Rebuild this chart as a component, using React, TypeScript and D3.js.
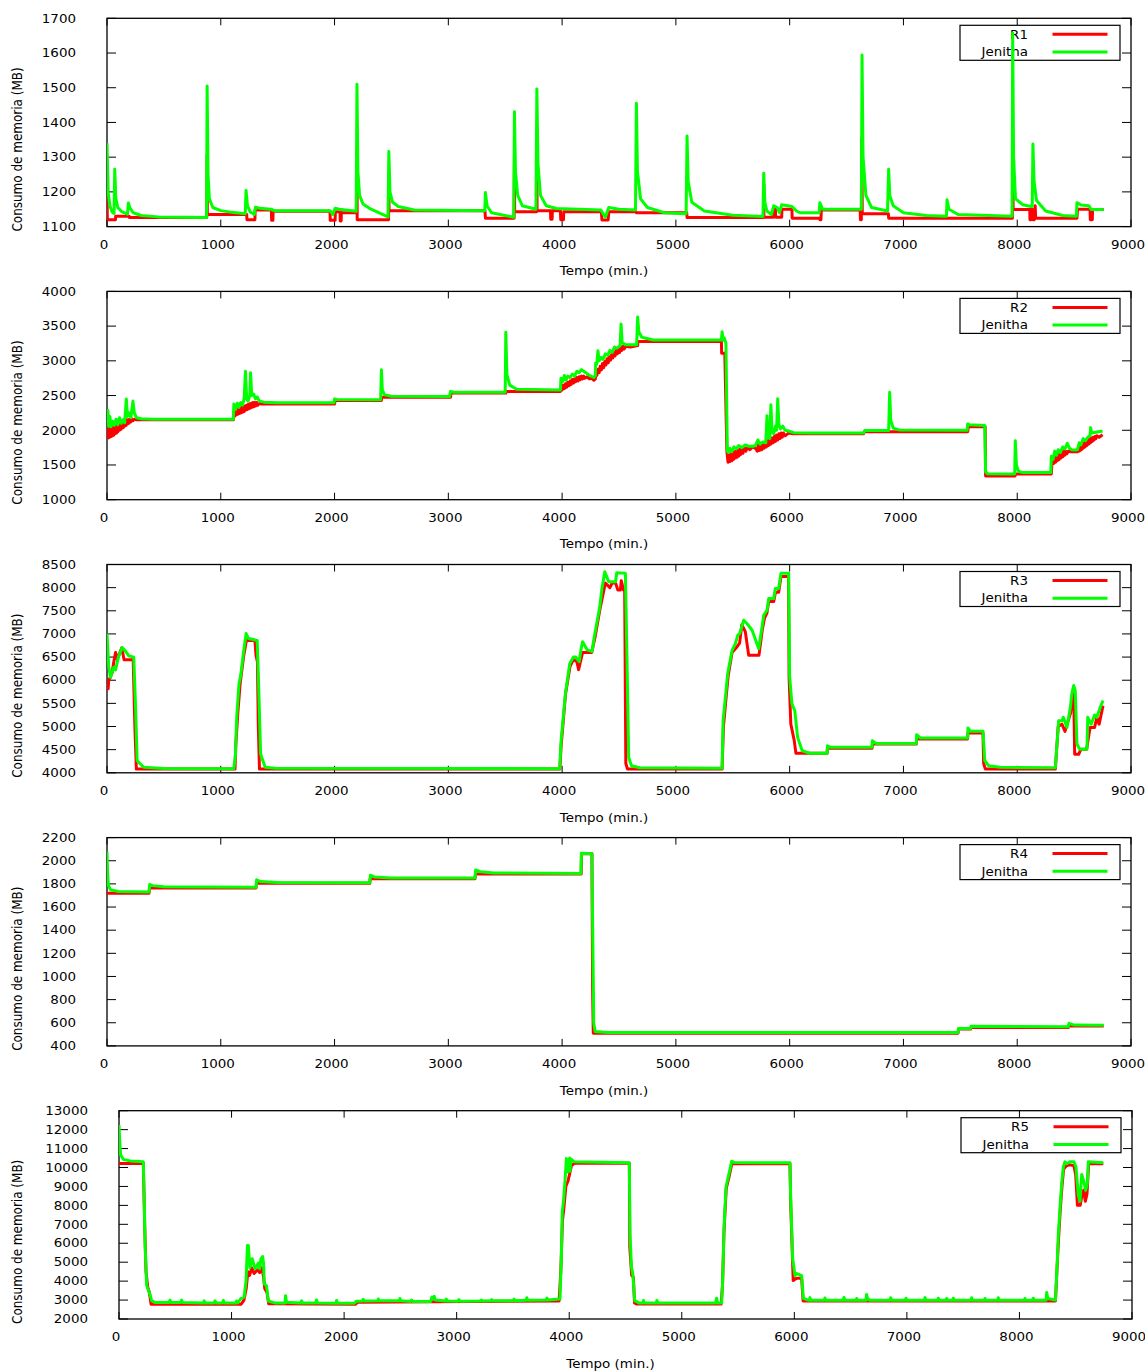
import React from 'react';
import * as d3 from 'd3';

type Pt = [number, number];

// Axis tick values
const xTicks = [0, 1000, 2000, 3000, 4000, 5000, 6000, 7000, 8000, 9000];
const r1Ticks = [1100, 1200, 1300, 1400, 1500, 1600, 1700];
const r2Ticks = [1000, 1500, 2000, 2500, 3000, 3500, 4000];
const r3Ticks = [4000, 4500, 5000, 5500, 6000, 6500, 7000, 7500, 8000, 8500];
const r4Ticks = [400, 600, 800, 1000, 1200, 1400, 1600, 1800, 2000, 2200];
const r5Ticks = [2000, 3000, 4000, 5000, 6000, 7000, 8000, 9000, 10000, 11000, 12000, 13000];

const seriesNames = ['R1', 'R2', 'R3', 'R4', 'R5'];
const comparisonName = 'Jenitha';
const xLabel = 'Tempo (min.)';
const yLabel = 'Consumo de memoria (MB)';

// Memory use over time: [minute, MB]
const r1Model: Pt[] = [[0,1200],[3,1120],[75,1120],[76,1130],[195,1130],[197,1126],[877,1126],[880,1306],[882,1135],[1228,1135],[1230,1120],[1300,1120],[1302,1148],[1445,1148],[1447,1118],[1458,1118],[1460,1144],[1960,1144],[1962,1118],[2005,1118],[2007,1143],[2048,1143],[2050,1116],[2058,1116],[2060,1140],[2195,1140],[2197,1316],[2199,1120],[2475,1120],[2477,1234],[2479,1146],[3322,1146],[3326,1124],[3578,1124],[3581,1297],[3583,1143],[3776,1143],[3778,1311],[3780,1146],[3898,1146],[3900,1121],[3912,1121],[3914,1146],[3985,1146],[3988,1120],[4012,1120],[4014,1143],[4345,1143],[4350,1119],[4405,1119],[4410,1143],[4650,1143],[4653,1140],[5095,1140],[5098,1126],[5770,1126],[5772,1222],[5774,1127],[5858,1127],[5860,1149],[5875,1149],[5877,1127],[5930,1127],[5932,1150],[6020,1150],[6022,1124],[6262,1124],[6265,1120],[6275,1120],[6278,1148],[6620,1148],[6622,1120],[6630,1120],[6634,1354],[6638,1137],[6868,1137],[6870,1124],[7958,1124],[7960,1369],[7964,1149],[8110,1149],[8112,1120],[8120,1120],[8122,1149],[8135,1149],[8138,1120],[8150,1120],[8158,1160],[8162,1124],[8525,1124],[8530,1150],[8640,1150],[8642,1120],[8660,1120],[8662,1149],[8760,1149]];

const r1Jenitha: Pt[] = [[0,1340],[10,1200],[25,1160],[45,1142],[62,1138],[68,1265],[78,1180],[95,1155],[130,1143],[180,1136],[188,1168],[200,1155],[230,1140],[300,1132],[450,1128],[870,1126],[875,1126],[880,1505],[888,1250],[900,1180],[930,1155],[1000,1146],[1100,1141],[1215,1137],[1222,1204],[1235,1160],[1260,1142],[1295,1135],[1305,1156],[1340,1153],[1440,1150],[1470,1146],[1960,1146],[1985,1135],[2005,1153],[2040,1150],[2190,1144],[2197,1510],[2205,1260],[2220,1190],[2250,1165],[2320,1150],[2470,1128],[2477,1316],[2487,1200],[2510,1170],[2560,1158],[2700,1148],[3320,1146],[3326,1198],[3340,1160],[3380,1140],[3575,1127],[3581,1431],[3590,1260],[3610,1190],[3650,1160],[3770,1150],[3778,1496],[3788,1280],[3810,1190],[3860,1160],[3950,1152],[4340,1148],[4380,1127],[4410,1155],[4500,1150],[4645,1148],[4653,1455],[4662,1260],[4690,1180],[4750,1155],[4900,1140],[5090,1137],[5098,1361],[5108,1230],[5140,1170],[5250,1145],[5500,1133],[5765,1129],[5772,1254],[5782,1170],[5800,1145],[5840,1135],[5860,1160],[5890,1155],[5910,1140],[5930,1163],[6020,1158],[6060,1145],[6090,1140],[6260,1140],[6265,1169],[6290,1150],[6630,1150],[6636,1594],[6645,1300],[6670,1190],[6720,1155],[6860,1145],[6870,1265],[6880,1190],[6910,1160],[7000,1140],[7200,1132],[7378,1130],[7383,1177],[7400,1150],[7480,1135],[7955,1130],[7960,1657],[7968,1300],[7985,1180],[8050,1163],[8120,1158],[8132,1158],[8138,1338],[8148,1230],[8170,1175],[8250,1145],[8400,1132],[8520,1130],[8525,1169],[8560,1162],[8630,1160],[8650,1149],[8760,1149]];

const r2Model: Pt[] = [[0,1900],[6,2010],[12,1890],[18,2020],[24,1900],[30,2030],[36,1910],[42,2040],[48,1920],[54,2050],[60,1930],[66,2060],[72,1950],[78,2070],[84,1960],[90,2080],[96,1980],[102,2090],[108,2000],[114,2100],[120,2010],[126,2110],[132,2030],[138,2120],[144,2040],[150,2130],[156,2060],[162,2140],[168,2070],[174,2150],[180,2090],[186,2150],[192,2100],[200,2160],[210,2120],[220,2160],[230,2140],[240,2160],[260,2150],[1110,2150],[1115,2260],[1122,2200],[1129,2290],[1136,2220],[1143,2300],[1150,2230],[1157,2310],[1164,2240],[1171,2320],[1178,2250],[1185,2330],[1192,2260],[1199,2340],[1206,2270],[1213,2350],[1220,2290],[1227,2360],[1234,2300],[1241,2370],[1248,2310],[1255,2380],[1262,2320],[1269,2390],[1276,2330],[1283,2400],[1290,2340],[1297,2400],[1305,2350],[1315,2400],[1325,2360],[1340,2385],[1360,2378],[2000,2378],[2005,2430],[2412,2430],[2415,2475],[3020,2475],[3022,2535],[3505,2535],[3508,2560],[3985,2560],[3990,2620],[4000,2580],[4010,2650],[4020,2600],[4030,2670],[4040,2620],[4050,2690],[4060,2640],[4070,2710],[4080,2660],[4090,2730],[4100,2680],[4110,2740],[4120,2700],[4130,2760],[4140,2710],[4150,2770],[4160,2730],[4170,2780],[4180,2740],[4190,2780],[4200,2750],[4220,2770],[4240,2740],[4260,2750],[4280,2720],[4292,2740],[4295,2830],[4305,2790],[4315,2880],[4325,2830],[4335,2920],[4345,2870],[4355,2960],[4365,2900],[4375,2990],[4385,2940],[4395,3030],[4405,2970],[4415,3060],[4425,3010],[4435,3090],[4445,3040],[4455,3120],[4465,3070],[4475,3150],[4485,3100],[4495,3170],[4505,3120],[4515,3200],[4525,3150],[4535,3210],[4545,3170],[4560,3210],[4600,3200],[4664,3220],[4666,3280],[5400,3280],[5402,3110],[5430,3110],[5448,1700],[5458,1540],[5466,1640],[5474,1550],[5482,1660],[5490,1560],[5498,1670],[5506,1580],[5514,1690],[5522,1600],[5530,1700],[5538,1610],[5546,1710],[5554,1630],[5562,1730],[5570,1650],[5580,1740],[5590,1670],[5600,1750],[5615,1700],[5630,1760],[5650,1720],[5670,1760],[5700,1740],[5715,1700],[5725,1790],[5735,1710],[5745,1800],[5755,1720],[5765,1820],[5775,1740],[5785,1830],[5795,1760],[5805,1850],[5815,1780],[5825,1870],[5835,1800],[5845,1890],[5855,1820],[5865,1910],[5875,1840],[5885,1930],[5895,1860],[5905,1950],[5915,1880],[5925,1960],[5935,1900],[5945,1960],[5960,1920],[5990,1960],[6030,1950],[6650,1950],[6655,1980],[7565,1980],[7570,2050],[7718,2050],[7722,1340],[7980,1340],[7985,1370],[8300,1370],[8305,1520],[8313,1600],[8321,1520],[8329,1620],[8337,1540],[8345,1640],[8353,1560],[8361,1660],[8369,1580],[8377,1670],[8385,1600],[8393,1690],[8401,1620],[8409,1700],[8417,1640],[8425,1700],[8435,1660],[8450,1700],[8470,1690],[8500,1690],[8530,1690],[8540,1760],[8548,1700],[8556,1780],[8564,1720],[8572,1800],[8580,1740],[8588,1820],[8596,1760],[8604,1840],[8612,1780],[8620,1860],[8628,1800],[8636,1870],[8644,1820],[8652,1890],[8660,1840],[8668,1900],[8676,1860],[8684,1910],[8692,1880],[8700,1920],[8720,1900],[8750,1935]];

const r2Jenitha: Pt[] = [[0,2300],[8,2280],[15,2060],[25,2200],[35,2050],[50,2130],[65,2070],[80,2160],[95,2080],[110,2180],[125,2100],[140,2150],[155,2110],[170,2450],[180,2200],[195,2250],[210,2180],[228,2420],[240,2250],[260,2180],[300,2165],[400,2158],[1110,2158],[1115,2380],[1130,2300],[1145,2390],[1160,2330],[1175,2400],[1190,2360],[1205,2450],[1217,2850],[1228,2450],[1240,2420],[1255,2500],[1262,2830],[1272,2500],[1290,2520],[1305,2450],[1320,2480],[1340,2420],[1380,2405],[1500,2395],[1995,2395],[2000,2450],[2020,2442],[2405,2440],[2412,2870],[2420,2580],[2440,2510],[2500,2490],[3010,2485],[3020,2560],[3050,2548],[3500,2546],[3505,3410],[3515,2800],[3540,2650],[3600,2590],[3985,2580],[3990,2750],[4005,2700],[4020,2790],[4035,2720],[4050,2780],[4070,2760],[4090,2810],[4110,2780],[4130,2850],[4150,2830],[4170,2873],[4200,2840],[4240,2790],[4280,2760],[4292,2790],[4295,2970],[4305,2950],[4315,3146],[4325,3000],[4345,3050],[4360,3020],[4380,3100],[4400,3080],[4420,3150],[4440,3120],[4460,3200],[4480,3180],[4510,3220],[4518,3530],[4528,3260],[4560,3230],[4655,3230],[4664,3631],[4674,3420],[4700,3340],[4800,3300],[5400,3300],[5406,3420],[5415,3300],[5425,3330],[5440,3250],[5452,1700],[5460,1680],[5475,1740],[5490,1690],[5510,1760],[5530,1730],[5550,1780],[5580,1750],[5610,1790],[5640,1770],[5680,1770],[5700,1780],[5720,1860],[5740,1800],[5760,1830],[5790,1820],[5801,2210],[5810,1900],[5825,1880],[5835,2368],[5845,1980],[5860,1950],[5875,2060],[5885,2000],[5895,2455],[5905,2080],[5920,2020],[5940,2060],[5960,2000],[5990,1990],[6035,1965],[6200,1960],[6650,1960],[6660,1995],[6870,1995],[6879,2546],[6888,2150],[6910,2030],[6960,2005],[7560,2000],[7564,2090],[7580,2080],[7715,2070],[7722,1400],[7740,1372],[7978,1370],[7983,1850],[7993,1500],[8010,1410],[8050,1390],[8295,1390],[8300,1624],[8315,1580],[8330,1700],[8345,1640],[8360,1720],[8380,1680],[8400,1760],[8420,1730],[8440,1811],[8460,1740],[8480,1720],[8510,1715],[8530,1720],[8545,1820],[8560,1790],[8580,1880],[8600,1850],[8620,1900],[8640,1920],[8645,2038],[8655,1960],[8750,1990]];

const r3Model: Pt[] = [[0,5815],[10,5815],[15,6000],[30,6066],[45,6160],[60,6400],[75,6600],[90,6450],[130,6700],[150,6444],[230,6444],[245,5000],[258,4080],[1125,4080],[1132,4600],[1150,5300],[1170,5920],[1200,6500],[1225,6860],[1300,6860],[1310,6530],[1322,6400],[1330,5000],[1340,4080],[3980,4080],[3992,4600],[4030,5700],[4070,6300],[4100,6450],[4130,6400],[4145,6229],[4180,6600],[4260,6600],[4290,6934],[4330,7500],[4380,8100],[4420,8000],[4440,8100],[4470,8100],[4490,7947],[4512,7947],[4520,8150],[4540,7947],[4550,7947],[4560,4200],[4575,4080],[5406,4080],[5418,5000],[5444,5700],[5460,6100],[5494,6600],[5530,6700],[5560,6800],[5580,7200],[5610,7050],[5640,6537],[5730,6537],[5760,7100],[5780,7350],[5800,7450],[5816,7700],[5860,7700],[5875,7900],[5903,7900],[5924,8240],[5990,8240],[5995,6050],[6010,5055],[6040,4700],[6055,4420],[6329,4420],[6332,4530],[6724,4530],[6727,4620],[7113,4620],[7116,4730],[7564,4730],[7567,4860],[7699,4860],[7705,4200],[7720,4080],[8335,4080],[8360,5000],[8393,5050],[8420,4895],[8470,5300],[8480,5560],[8496,5800],[8505,4400],[8540,4400],[8560,4510],[8610,4510],[8640,4980],[8680,4980],[8700,5199],[8720,5050],[8754,5450]];

const r3Jenitha: Pt[] = [[0,7008],[15,6300],[30,6066],[60,6278],[75,6220],[100,6500],[133,6704],[160,6640],[190,6530],[235,6500],[250,5500],[265,4260],[322,4120],[500,4095],[1115,4090],[1129,4400],[1140,5199],[1160,5923],[1175,6100],[1205,6704],[1223,7008],[1245,6900],[1320,6860],[1335,5706],[1350,4405],[1390,4120],[1480,4100],[3979,4090],[3990,4657],[4029,5706],[4067,6357],[4100,6500],[4120,6500],[4150,6400],[4165,6650],[4180,6830],[4220,6656],[4264,6620],[4280,6900],[4331,7585],[4350,7984],[4375,8344],[4410,8127],[4470,8127],[4480,8320],[4556,8309],[4570,6500],[4585,4332],[4610,4153],[4680,4110],[5406,4100],[5415,5127],[5444,5849],[5455,6140],[5494,6646],[5523,6790],[5543,6971],[5561,7010],[5596,7296],[5626,7220],[5670,7079],[5728,6682],[5757,7152],[5772,7404],[5801,7513],[5816,7767],[5860,7767],[5874,7984],[5903,7984],[5924,8309],[5991,8309],[6000,6066],[6020,5489],[6045,5344],[6070,4765],[6110,4477],[6182,4420],[6329,4420],[6332,4585],[6360,4550],[6724,4550],[6727,4693],[6760,4635],[7113,4635],[7116,4823],[7150,4750],[7564,4750],[7567,4969],[7590,4895],[7699,4895],[7715,4260],[7750,4152],[7850,4120],[8335,4110],[8364,5127],[8393,5127],[8405,5199],[8437,4980],[8467,5415],[8480,5706],[8496,5886],[8510,5780],[8525,4622],[8550,4510],[8613,4510],[8620,5199],[8650,5050],[8680,5250],[8700,5199],[8730,5415],[8754,5561]];

const r4Model: Pt[] = [[0,1720],[370,1720],[373,1765],[1310,1765],[1313,1805],[2310,1805],[2313,1845],[3235,1845],[3238,1885],[4168,1885],[4170,2060],[4262,2060],[4268,900],[4274,510],[7480,510],[7483,545],[7590,545],[7593,560],[8450,560],[8453,575],[8760,572]];

const r4Jenitha: Pt[] = [[0,2080],[5,1900],[12,1790],[30,1750],[100,1735],[370,1730],[375,1795],[400,1785],[500,1775],[1310,1770],[1315,1835],[1350,1820],[1500,1812],[2310,1810],[2315,1875],[2350,1860],[2500,1850],[3235,1850],[3240,1920],[3280,1905],[3400,1895],[4165,1890],[4170,2065],[4262,2060],[4270,1300],[4278,600],[4290,525],[4400,515],[7480,515],[7485,550],[7590,550],[7595,570],[8450,565],[8455,595],[8500,580],[8760,578]];

const r5Model: Pt[] = [[0,10213],[216,10213],[228,7000],[240,4500],[255,3700],[270,3400],[285,2780],[1085,2780],[1110,3000],[1130,3600],[1145,4500],[1160,4300],[1180,4700],[1200,4400],[1230,4600],[1250,4450],[1270,4700],[1285,4200],[1295,3600],[1315,3400],[1330,2800],[2100,2780],[2120,2880],[3910,2950],[3925,4500],[3940,7200],[3955,8000],[3970,9000],[3990,9300],[4005,9700],[4020,10100],[4045,10220],[4534,10220],[4538,5800],[4555,4300],[4570,4200],[4580,2850],[4600,2790],[5350,2790],[5362,3800],[5375,6600],[5395,8900],[5420,9500],[5445,10200],[5961,10200],[5968,8000],[5990,4029],[6020,4150],[6065,4150],[6078,2950],[8320,2950],[8335,4800],[8348,6300],[8362,7700],[8378,9000],[8392,9900],[8410,10050],[8440,10150],[8484,10100],[8500,9600],[8515,8003],[8540,8003],[8555,8550],[8570,8800],[8585,8215],[8600,8600],[8615,10200],[8745,10200]];

const r5Jenitha: Pt[] = [[0,12242],[8,11200],[15,10653],[40,10420],[100,10350],[216,10300],[225,8000],[232,5884],[246,3764],[262,3500],[275,3300],[290,2970],[320,2870],[445,2870],[453,3000],[462,2870],[548,2870],[556,3000],[565,2870],[750,2850],[757,2960],[765,2850],[845,2850],[853,2960],[862,2850],[920,2850],[927,2980],[935,2850],[1040,2850],[1045,2950],[1055,2850],[1081,3070],[1111,3150],[1129,4029],[1141,5884],[1149,5884],[1163,4700],[1183,5180],[1210,4650],[1237,4950],[1250,4650],[1261,5180],[1276,5300],[1285,4900],[1290,3854],[1311,3750],[1326,2950],[1385,2850],[1475,2850],[1480,3234],[1488,2880],[1615,2850],[1622,2960],[1630,2850],[1750,2850],[1755,3000],[1763,2850],[1928,2830],[1933,2980],[1940,2830],[2090,2830],[2110,2940],[2165,2950],[2170,3040],[2180,2950],[2300,2960],[2304,3060],[2312,2960],[2490,2960],[2496,3080],[2505,2960],[2590,2930],[2600,3000],[2610,2930],[2770,2930],[2780,3155],[2790,3080],[2800,3200],[2810,3000],[2900,2950],[2908,3050],[2916,2950],[3010,2940],[3020,3020],[3030,2940],[3210,2950],[3220,3000],[3230,2950],[3300,2960],[3310,3020],[3320,2960],[3500,2970],[3510,3050],[3520,2970],[3618,2990],[3623,3120],[3632,2990],[3795,3000],[3802,3100],[3810,3000],[3918,3050],[3930,5263],[3938,7648],[3950,8268],[3963,9328],[3975,10478],[3985,9768],[4004,10500],[4008,9800],[4014,10450],[4045,10298],[4534,10250],[4540,6503],[4553,4734],[4565,4384],[4582,2970],[4620,2850],[4655,2850],[4660,2980],[4668,2850],[4775,2850],[4779,2980],[4787,2850],[5300,2850],[5310,3100],[5318,2850],[5354,2850],[5363,3939],[5375,6768],[5393,8973],[5413,9503],[5428,9900],[5443,10334],[5470,10260],[5961,10245],[5967,8533],[5985,5178],[6006,4294],[6021,4400],[6065,4294],[6080,3087],[6110,3020],[6134,2995],[6139,3130],[6146,2995],[6267,2990],[6272,3110],[6280,2990],[6436,2990],[6441,3140],[6450,2990],[6549,2990],[6554,3080],[6562,2990],[6637,2990],[6642,3300],[6650,3080],[6670,2990],[6851,2990],[6856,3120],[6864,2990],[6987,2990],[6992,3100],[7000,2990],[7156,2990],[7161,3130],[7169,2990],[7274,2990],[7279,3100],[7287,2990],[7348,2990],[7353,3080],[7361,2990],[7407,2990],[7412,3100],[7420,2990],[7570,2990],[7575,3120],[7583,2990],[7689,2990],[7694,3080],[7702,2990],[7807,2990],[7812,3120],[7820,2990],[8044,2990],[8049,3080],[8057,2990],[8118,2990],[8123,3100],[8131,2990],[8237,2990],[8242,3400],[8252,3080],[8320,3000],[8336,5000],[8345,6414],[8360,7828],[8375,9152],[8390,10033],[8404,10298],[8420,10200],[8449,10298],[8484,10298],[8502,10033],[8523,8533],[8538,8215],[8553,9630],[8573,9238],[8588,8798],[8603,9150],[8612,10298],[8745,10250]];

interface PanelSpec {
  name: string;
  ticks: number[];
  model: Pt[];
  jenitha: Pt[];
  left: number;
  right: number;
}

const panels: PanelSpec[] = [
  { name: seriesNames[0], ticks: r1Ticks, model: r1Model, jenitha: r1Jenitha, left: 107, right: 1131 },
  { name: seriesNames[1], ticks: r2Ticks, model: r2Model, jenitha: r2Jenitha, left: 107, right: 1131 },
  { name: seriesNames[2], ticks: r3Ticks, model: r3Model, jenitha: r3Jenitha, left: 107, right: 1131 },
  { name: seriesNames[3], ticks: r4Ticks, model: r4Model, jenitha: r4Jenitha, left: 107, right: 1131 },
  { name: seriesNames[4], ticks: r5Ticks, model: r5Model, jenitha: r5Jenitha, left: 119, right: 1132 },
];

const WIDTH = 1145;
const HEIGHT = 1372;
const TOP0 = 18.3;
const STEP = 273.1;
const PLOT_H = 208.3;
const SX = 1.12; // horizontal glyph stretch
const FONT = 12;
const RED = '#ff0000';
const GREEN = '#00ff00';
const LW = 3;

function Panel({ spec, index }: { spec: PanelSpec; index: number }) {
  const top = TOP0 + index * STEP;
  const bottom = top + PLOT_H;
  const { left, right } = spec;
  const x = d3.scaleLinear().domain([0, 9000]).range([left, right]);
  const y = d3
    .scaleLinear()
    .domain([spec.ticks[0], spec.ticks[spec.ticks.length - 1]])
    .range([bottom, top]);
  const line = d3
    .line<Pt>()
    .x((d) => x(d[0]))
    .y((d) => y(d[1]));
  const clipId = `plot-clip-${index}`;

  const keyLeft = right - 171;
  const keyRight = right - 11;
  const keyTop = top + 7;
  const keyBottom = top + 42;
  const row1 = top + 16;
  const row2 = top + 33.7;
  const textEnd = right - 103;
  const sampleX0 = right - 78.5;
  const sampleX1 = right - 23.5;

  return (
    <g>
      <defs>
        <clipPath id={clipId}>
          <rect x={left} y={top} width={right - left} height={bottom - top} />
        </clipPath>
      </defs>

      {xTicks.map((t) => (
        <g key={`x${t}`}>
          <line x1={x(t)} x2={x(t)} y1={bottom} y2={bottom - 7} stroke="#000" strokeWidth={1} />
          <line x1={x(t)} x2={x(t)} y1={top} y2={top + 7} stroke="#000" strokeWidth={1} />
          <text
            transform={`translate(${x(t) - 3},${bottom + 18}) scale(${SX},1)`}
            textAnchor="middle"
            dominantBaseline="central"
            fontSize={FONT}
          >
            {t}
          </text>
        </g>
      ))}

      {spec.ticks.map((v) => (
        <g key={`y${v}`}>
          <line x1={left} x2={left + 9} y1={y(v)} y2={y(v)} stroke="#000" strokeWidth={1} />
          <line x1={right} x2={right - 9} y1={y(v)} y2={y(v)} stroke="#000" strokeWidth={1} />
          <text
            transform={`translate(${left - 31},${y(v)}) scale(${SX},1)`}
            textAnchor="end"
            dominantBaseline="central"
            fontSize={FONT}
          >
            {v}
          </text>
        </g>
      ))}

      <rect x={left} y={top} width={right - left} height={bottom - top} fill="none" stroke="#000" strokeWidth={1.3} />

      <text
        transform={`translate(${(left + right) / 2 - 15},${bottom + 44.5}) scale(${SX},1)`}
        textAnchor="middle"
        dominantBaseline="central"
        fontSize={FONT}
      >
        {xLabel}
      </text>
      <text
        transform={`translate(17.5,${(top + bottom) / 2 + 27}) scale(${SX},1) rotate(-90)`}
        textAnchor="middle"
        dominantBaseline="central"
        fontSize={FONT}
      >
        {yLabel}
      </text>

      {/* key */}
      <rect x={keyLeft} y={keyTop} width={keyRight - keyLeft} height={keyBottom - keyTop} fill="#fff" stroke="#000" strokeWidth={1.2} />
      <text transform={`translate(${textEnd},${row1}) scale(${SX},1)`} textAnchor="end" dominantBaseline="central" fontSize={FONT}>
        {spec.name}
      </text>
      <line x1={sampleX0} x2={sampleX1} y1={row1} y2={row1} stroke={RED} strokeWidth={LW} />
      <text transform={`translate(${textEnd},${row2}) scale(${SX},1)`} textAnchor="end" dominantBaseline="central" fontSize={FONT}>
        {comparisonName}
      </text>
      <line x1={sampleX0} x2={sampleX1} y1={row2} y2={row2} stroke={GREEN} strokeWidth={LW} />

      <g clipPath={`url(#${clipId})`}>
        <path d={line(spec.model) ?? ''} fill="none" stroke={RED} strokeWidth={LW} strokeLinejoin="round" />
        <path d={line(spec.jenitha) ?? ''} fill="none" stroke={GREEN} strokeWidth={LW} strokeLinejoin="round" />
      </g>
    </g>
  );
}

export default function App() {
  return (
    <div style={{ position: 'absolute', left: 0, top: 0, width: WIDTH, height: HEIGHT, background: '#fff' }}>
      <svg
        width={WIDTH}
        height={HEIGHT}
        viewBox={`0 0 ${WIDTH} ${HEIGHT}`}
        style={{ display: 'block' }}
        fontFamily="'DejaVu Sans', Verdana, sans-serif"
      >
        <rect width={WIDTH} height={HEIGHT} fill="#fff" />
        {panels.map((p, i) => (
          <Panel key={p.name} spec={p} index={i} />
        ))}
      </svg>
    </div>
  );
}
